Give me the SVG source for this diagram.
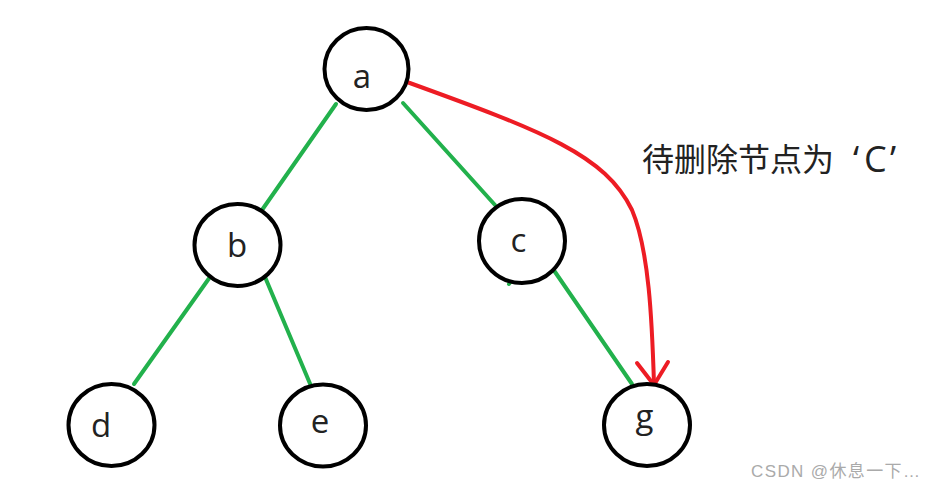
<svg xmlns="http://www.w3.org/2000/svg" width="935" height="490" viewBox="0 0 935 490">
<style>
.n{fill:#fff;stroke:#000;stroke-width:4}
.t{font-family:"Open Sans","Noto Sans",sans-serif;font-size:33px;fill:#222;text-anchor:middle}
.g{stroke:#22b14c;stroke-width:4;fill:none;stroke-linecap:round}
.r{stroke:#ed1c24;stroke-width:4;fill:none;stroke-linecap:round;stroke-linejoin:round}
.lbl{font-family:"Noto Sans CJK SC","Noto Sans",sans-serif;font-size:32px;fill:#222}
.q{font-family:"Open Sans","Noto Sans",sans-serif;font-size:36px;fill:#222}
</style>
<rect width="935" height="490" fill="#fff"/>
<g id="edges">
<line class="g" x1="336" y1="104" x2="262" y2="210"/>
<line class="g" x1="403" y1="103" x2="495" y2="205"/>
<line class="g" x1="210" y1="277" x2="134" y2="384"/>
<line class="g" x1="265" y1="277" x2="311" y2="386"/>
<line class="g" x1="553" y1="269" x2="632" y2="384"/>
<line class="g" x1="509" y1="284" x2="511" y2="281"/>
<path class="r" d="M407,82 C545,132 605,155 632,210 C649,250 652,320 654,384"/>
<path class="r" d="M637,363 L654,385 L668,362"/>
</g>
<g id="a"><ellipse class="n" cx="366.5" cy="69" rx="42" ry="41"/><text class="t" x="362" y="88">a</text></g>
<g id="b"><ellipse class="n" cx="237.5" cy="245" rx="43" ry="41"/><text class="t" x="237" y="257">b</text></g>
<g id="c"><ellipse class="n" cx="522" cy="241" rx="43" ry="42"/><text class="t" x="518.5" y="252">c</text></g>
<g id="d"><ellipse class="n" cx="111.5" cy="425" rx="43" ry="41"/><text class="t" x="101" y="437">d</text></g>
<g id="e"><ellipse class="n" cx="323" cy="425.5" rx="43" ry="41"/><text class="t" x="320" y="433">e</text></g>
<g id="g"><ellipse class="n" cx="647" cy="425" rx="43" ry="41"/><text class="t" x="644.5" y="428">g</text></g>
<g id="label">
<text class="lbl" x="642" y="171">待删除节点为</text>
<text class="q" x="853" y="172">‘</text>
<text class="q" x="864" y="172">C</text>
<text class="q" x="890" y="172">’</text>
</g>
<text x="751" y="477" font-family="'Liberation Sans','Noto Sans CJK SC',sans-serif" font-size="17" fill="#aaa" textLength="169" lengthAdjust="spacing">CSDN @休息一下…</text>
</svg>
